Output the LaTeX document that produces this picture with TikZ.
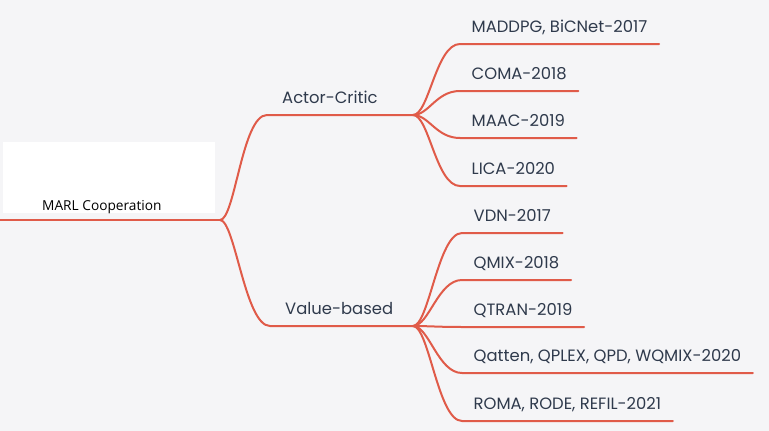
\documentclass[tikz,border=0pt]{standalone}
\usepackage{fontspec}
\setmainfont{Poppins}
\newfontfamily\rootfont{Open Sans}
\definecolor{bgc}{HTML}{F5F5F7}
\definecolor{linec}{HTML}{E05B49}
\definecolor{txtc}{HTML}{2F3A4C}
\begin{document}
\begin{tikzpicture}[x=1pt,y=-1pt,
  br/.style={draw=linec, line width=2pt, line cap=round},
  leaf/.style={anchor=south west, inner xsep=11.5pt, inner ysep=11.4pt, text depth=0pt,
    font=\fontsize{16.4}{19}\selectfont, text=txtc},
  mid/.style={leaf, inner xsep=15pt}]
\fill[bgc] (0,0) rectangle (769,431);
\useasboundingbox (0,0) rectangle (769,431);
\node[fill=white, minimum width=212pt, minimum height=71pt, inner sep=0, anchor=north west] (rootbox) at (3,142) {};
\node[anchor=west, font=\rootfont\fontsize{13.7}{16}\selectfont, text=black, inner sep=0] (root) at (42,207) {MARL Cooperation};
\coordinate (rootend) at (0,220);
\coordinate (b0) at (220,220);
\coordinate (bA) at (413,115);
\coordinate (bV) at (413,326);
\node[mid] (ac) at (267,115) {Actor-Critic};
\node[mid] (vb) at (270,326) {Value-based};
\node[leaf] (a1) at (460,44) {MADDPG, BiCNet-2017};
\node[leaf] (a2) at (460,91) {COMA-2018};
\node[leaf] (a3) at (460,138) {MAAC-2019};
\node[leaf] (a4) at (460,186) {LICA-2020};
\node[leaf] (v1) at (462,233) {VDN-2017};
\node[leaf] (v2) at (462,280) {QMIX-2018};
\node[leaf] (v3) at (462,327) {QTRAN-2019};
\node[leaf] (v4) at (462,373) {Qatten, QPLEX, QPD, WQMIX-2020};
\node[leaf] (v5) at (462,421) {ROMA, RODE, REFIL-2021};
\draw[br] (rootend) -- (b0);
\draw[br] (b0) .. controls +(15,0) and +(-25,0) .. (ac.south west) -- (bA);
\draw[br] (b0) .. controls +(15,0) and +(-25,0) .. (vb.south west) -- (bV);
\foreach \n in {a1,a2,a3,a4}
  \draw[br] (bA) .. controls +(16,0) and +(-24,0) .. (\n.south west) -- (\n.south east);
\foreach \n in {v1,v2,v3,v4,v5}
  \draw[br] (bV) .. controls +(16,0) and +(-24,0) .. (\n.south west) -- (\n.south east);
\end{tikzpicture}
\end{document}
